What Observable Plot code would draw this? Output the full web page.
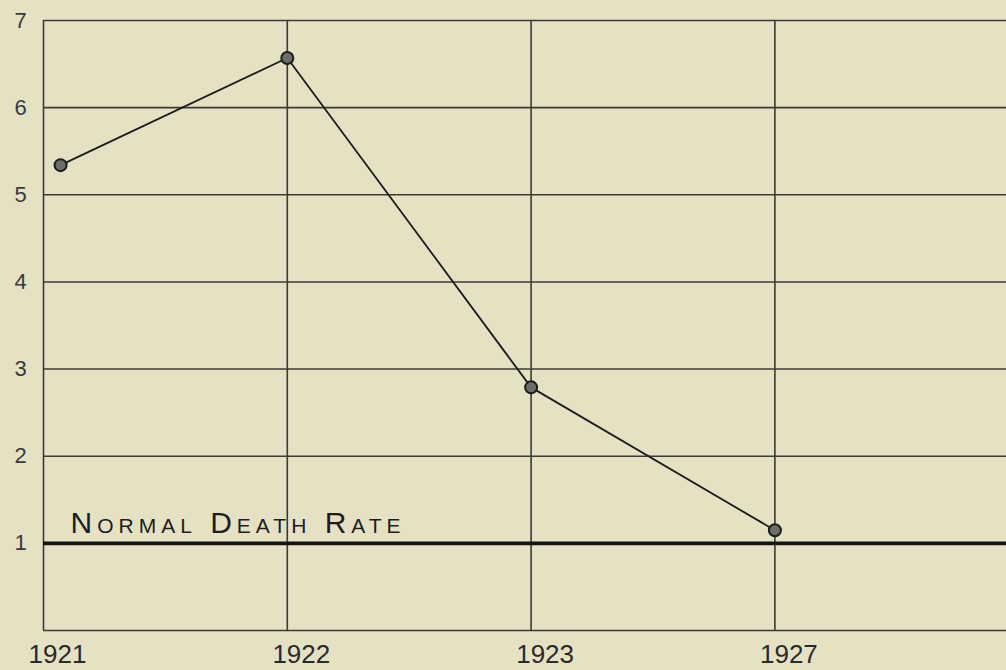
<!DOCTYPE html>
<html>
<head>
<meta charset="utf-8">
<script src="https://cdn.jsdelivr.net/npm/d3@7"></script>
<script src="https://cdn.jsdelivr.net/npm/@observablehq/plot@0.6"></script>
<style>
  html, body { margin: 0; padding: 0; background: #e5e2c3; }
  #chart svg { display: block; }
  #chart g[aria-label="text"] text { letter-spacing: 5px; }
</style>
</head>
<body>
<div id="chart"></div>
<script>
// Data
const years = ["1921", "1922", "1923", "1927"];
const rateRatio = [5.34, 6.57, 2.79, 1.15];
const yTicks = [1, 2, 3, 4, 5, 6, 7];
const normalRate = 1;
const normalLabel = "Normal Death Rate";

const idx = years.map((_, i) => i);
const points = years.map((y, i) => ({i, year: y, value: rateRatio[i]}));
// first plotted point sits slightly right of the 1921 rule in the original
const px = d => d.i + (d.i === 0 ? 0.07 : 0);

const gridColor = "#3b3a33";
const font = "Liberation Sans, Arial, sans-serif";

const chart = Plot.plot({
  width: 1006,
  height: 670,
  marginLeft: 43,
  marginRight: 0,
  marginTop: 20,
  marginBottom: 40,
  style: {background: "#e5e2c3", fontFamily: font, color: "#333"},
  x: {domain: [0, 3.95]},
  y: {domain: [0, 7]},
  marks: [
    Plot.ruleY([0, ...yTicks.filter(t => t !== normalRate)], {stroke: gridColor, strokeWidth: 1.6}),
    Plot.ruleX(idx, {y1: 0, y2: 7, stroke: gridColor, strokeWidth: 1.6}),
    Plot.ruleY([normalRate], {stroke: "#141414", strokeWidth: 3.6}),
    Plot.axisY(yTicks, {tickSize: 0, tickPadding: 23, textAnchor: "middle", fontSize: 22, fill: "#3a3a3a", label: null,
      tickFormat: d3.format("d")}),
    Plot.axisX(idx, {tickSize: 0, tickPadding: 14, dx: 14, fontSize: 26, fill: "#2a2a2a", label: null,
      tickFormat: i => years[i]}),
    Plot.text([normalLabel], {x: 0, y: normalRate, dx: 27, dy: -10, textAnchor: "start", lineAnchor: "bottom",
      fontSize: 30, fontVariant: "small-caps", fill: "#1e1e1e", text: d => d}),
    Plot.line(points, {x: px, y: "value", stroke: "#1c1c1c", strokeWidth: 1.8}),
    Plot.dot(points, {x: px, y: "value", r: 6, fill: "#6e6e68", stroke: "#1c1c1c", strokeWidth: 2})
  ]
});
document.getElementById("chart").append(chart);
</script>
</body>
</html>
